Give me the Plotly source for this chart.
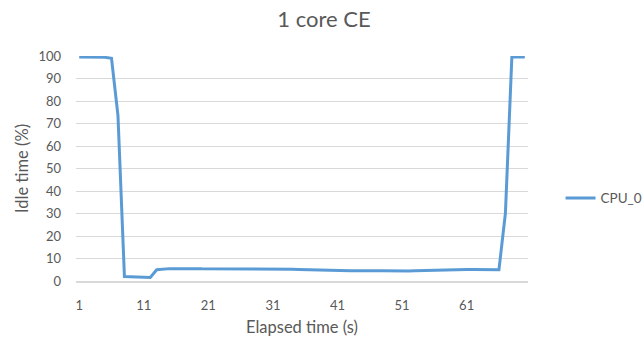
import plotly.graph_objects as go

# Elapsed time in seconds (one sample per second)
elapsed_s = list(range(1, 71))

# Idle time of CPU_0 in percent
cpu0_idle = [
    99.6, 99.6, 99.6, 99.5, 99.4, 99.0, 73.5, 2.0, 1.9, 1.7,
    1.4, 1.6, 5.0, 5.4, 5.5, 5.5, 5.6, 5.5, 5.5, 5.4,
    5.4, 5.4, 5.5, 5.5, 5.5, 5.4, 5.4, 5.3, 5.3, 5.3,
    5.3, 5.3, 5.2, 5.2, 5.1, 5.0, 5.0, 4.9, 4.9, 4.8,
    4.8, 4.7, 4.6, 4.6, 4.5, 4.5, 4.6, 4.6, 4.5, 4.5,
    4.5, 4.5, 4.6, 4.7, 4.8, 4.9, 5.0, 5.0, 5.1, 5.1,
    5.1, 5.1, 5.0, 5.1, 5.0, 5.0, 30.0, 99.6, 99.6, 99.6,
]

x_ticks = [1, 11, 21, 31, 41, 51, 61]
y_ticks = [0, 10, 20, 30, 40, 50, 60, 70, 80, 90, 100]

FONT = "Lato, Carlito, Calibri, sans-serif"
TEXT = "#595959"
GRID = "#d9d9d9"

fig = go.Figure()
fig.add_trace(go.Scatter(
    x=elapsed_s,
    y=cpu0_idle,
    mode="lines",
    name="CPU_0",
    line=dict(color="#5b9bd5", width=3),
))

fig.update_layout(
    width=644,
    height=338,
    margin=dict(l=76, r=116, t=56, b=57, autoexpand=False),
    paper_bgcolor="white",
    plot_bgcolor="white",
    font=dict(family=FONT, color=TEXT, size=12),
    title=dict(
        text="1 core CE",
        x=0.503, xref="container", xanchor="center",
        y=0.943, yref="container", yanchor="middle",
        font=dict(size=22, color=TEXT, family=FONT),
    ),
    showlegend=True,
    legend=dict(
        x=1.072, xanchor="left",
        y=0.368, yanchor="middle",
        font=dict(size=13.5, color=TEXT, family=FONT),
        bgcolor="rgba(0,0,0,0)",
    ),
    xaxis=dict(
        range=[0.5, 70.5],
        automargin=False,
        tickmode="array",
        tickvals=x_ticks,
        ticktext=[str(v) for v in x_ticks],
        showgrid=False,
        showline=True,
        linecolor=GRID,
        linewidth=1.5,
        zeroline=False,
        ticks="",
        ticklabelstandoff=12,
        tickfont=dict(size=13, color=TEXT),
        title=dict(text="Elapsed time (s)", font=dict(size=16.5, color=TEXT), standoff=9),
    ),
    yaxis=dict(
        range=[0, 100],
        automargin=False,
        tickmode="array",
        tickvals=y_ticks,
        showgrid=True,
        gridcolor=GRID,
        gridwidth=1,
        zeroline=False,
        showline=False,
        ticks="",
        ticklabelstandoff=14,
        tickfont=dict(size=13, color=TEXT),
        title=dict(text="Idle time (%)", font=dict(size=16.5, color=TEXT), standoff=5),
    ),
)

fig.write_html("out.html")
